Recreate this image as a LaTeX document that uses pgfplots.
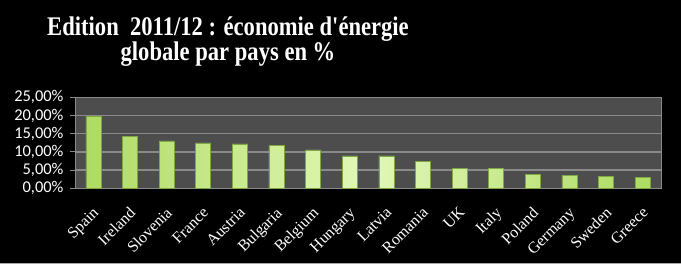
\documentclass[border=0pt]{standalone}
\usepackage{fontspec}
\setmainfont{Liberation Serif}
\newfontfamily\titlefont{Liberation Serif}
\newfontfamily\calfont{Carlito}
\usepackage{pgfplots}
\pgfplotsset{compat=1.18}
\definecolor{plotbg}{HTML}{4D4D4D}
\definecolor{gridgray}{HTML}{8A8A8A}
\definecolor{barlight}{HTML}{E2F7B8}
\definecolor{barmid}{HTML}{AEDB62}
\definecolor{baredge}{HTML}{7FA845}
\begin{document}
\begin{tikzpicture}[x=1bp,y=1bp]
\fill[black] (0,0) rectangle (681,264);
\path[use as bounding box] (0,0) rectangle (681,264);
\draw[gray!70, line width=1.2bp] (0,0.6) -- (681,0.6);
\node[font=\titlefont\bfseries\fontsize{27}{29}\selectfont, text=white, anchor=base, xscale=0.84] at (228,229) {Edition\ \ 2011/12 : économie d'énergie};
\node[font=\titlefont\bfseries\fontsize{27}{29}\selectfont, text=white, anchor=base, xscale=0.84] at (228,204) {globale par pays en \%};
\begin{axis}[
  at={(75bp,75.7bp)}, anchor=south west,
  scale only axis, width=586bp, height=91bp,
  xmin=-0.5, xmax=15.5, ymin=0, ymax=25,
  axis background/.style={fill=plotbg},
  axis line style={draw=gridgray, line width=1pt},
  ymajorgrids, grid style={draw=gridgray, line width=1.3pt},
  ytick={0,5,10,15,20,25},
  yticklabels={{0,00\%},{5,00\%},{10,00\%},{15,00\%},{20,00\%},{25,00\%}},
  ytick pos=left, tick align=outside, major tick length=5bp,
  tick style={draw=gridgray, line width=1pt},
  yticklabel style={font=\calfont\fontsize{16.5}{17}\selectfont, text=white, xshift=-3bp},
  xtick={0,...,15},
  xticklabels={Spain,Ireland,Slovenia,France,Austria,Bulgaria,Belgium,Hungary,Latvia,Romania,UK,Italy,Poland,Germany,Sweden,Greece},
  xtick pos=bottom,
  xtick style={draw=none},
  minor xtick={-0.5,0.5,...,15.5},
  minor tick length=5bp,
  minor tick style={draw=gridgray, line width=1pt},
  xticklabel style={font=\fontsize{16}{16}\selectfont, text=white, rotate=45, anchor=north east, inner sep=1pt, xshift=-9bp, yshift=-7bp},
]
\addplot[ybar, bar width=15bp, draw=baredge, line width=0.6pt, left color=barmid, right color=barmid, middle color=barlight] coordinates {
(0,19.7) (1,14.2) (2,13.05) (3,12.5) (4,12.2) (5,11.7) (6,10.55) (7,8.9)
(8,8.9) (9,7.5) (10,5.55) (11,5.55) (12,3.9) (13,3.6) (14,3.3) (15,3.05)
};
\end{axis}
\end{tikzpicture}
\end{document}
